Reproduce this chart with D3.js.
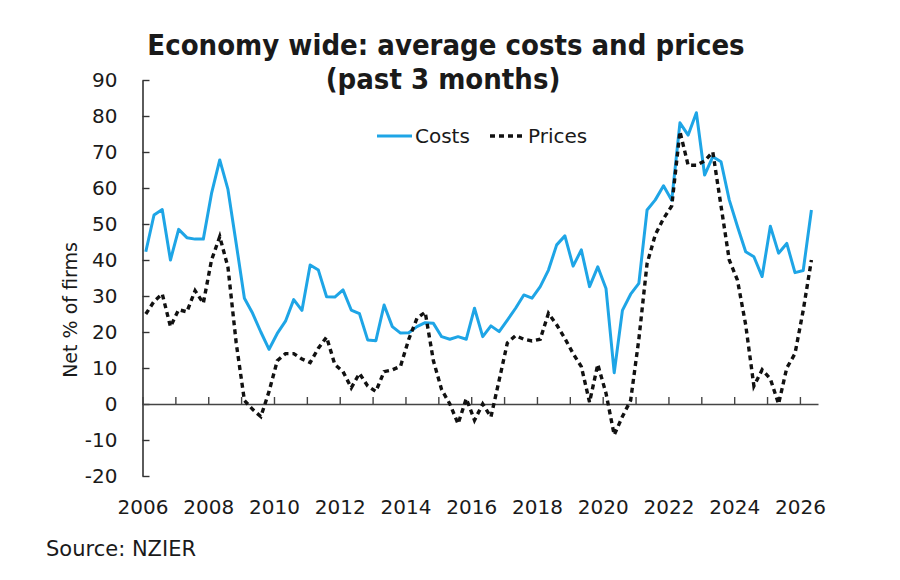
<!DOCTYPE html>
<html>
<head>
<meta charset="utf-8">
<script src="https://cdn.jsdelivr.net/npm/d3@7"></script>
<style>
body{margin:0;background:#fff}
text{font-family:"DejaVu Sans",sans-serif;fill:#1a1a1a}
</style>
</head>
<body>
<svg id="drawing_region"></svg>
<script>
// quarterly, net % of firms
const costs = [42.3, 52.5, 54, 40, 48.5, 46.2, 45.8, 45.8, 58.5, 67.8,
    59.6, 44.6, 29.4, 25.2, 20, 15.2, 19.6, 23, 29, 26,
    38.6, 37.2, 29.8, 29.7, 31.7, 26.1, 25.1, 17.8, 17.6, 27.5,
    21.5, 19.7, 19.8, 21.5, 22.6, 22.4, 18.7, 18, 18.7, 18,
    26.6, 18.7, 21.7, 20.1, 23.3, 26.6, 30.3, 29.4, 32.6, 37.2,
    44.2, 46.7, 38.3, 42.8, 32.6, 38.1, 32.1, 8.7, 26, 30.5,
    33.5, 53.9, 56.7, 60.6, 56.6, 78.1, 74.7, 80.9, 63.6, 68.7,
    67.3, 56.7, 49.3, 42.3, 40.9, 35.4, 49.4, 41.9, 44.6, 36.5,
    37.1, 53.9]

const prices = [25, 28.5, 30.6, 21.5, 26.2, 25.6, 31.5, 28, 40, 46.5,
    38, 17, 1, -1.5, -3.5, 3.5, 12, 14, 14, 12.5,
    11.5, 15.5, 18.6, 11, 9, 4.5, 8.5, 5, 3.5, 9,
    9.5, 10.5, 18, 23.8, 25.5, 12, 4, 0, -5.5, 1.5,
    -4.5, 0, -3.6, 6.6, 17, 19, 18, 17.5, 18, 25.2,
    22, 18.2, 14, 10.4, 0.5, 11, 3, -8.6, -3.5, 1,
    18, 39, 47, 51.5, 55, 75.7, 66.3, 66.3, 67.5, 70,
    55, 40, 34.4, 22, 5, 9.5, 7, 0, 10, 14,
    26, 40]

const quarters = d3.range(costs.length).map(i => 2006.1 + i / 4)
const year_ticks = d3.range(2006, 2027)
const year_labels = [2006, 2008, 2010, 2012, 2014, 2016, 2018, 2020, 2022, 2024, 2026]
const y_ticks = [-20, -10, 0, 10, 20, 30, 40, 50, 60, 70, 80, 90]

class LineChart{
    constructor(config){
        this.config = config
        this.init()
    }

    init(){
        let self = this
        const m = self.config.margin

        self.svg = d3.select(self.config.parent)
            .attr('width', self.config.width)
            .attr('height', self.config.height)

        self.chart = self.svg.append('g')
            .attr('transform', `translate(${m.left},${m.top})`)

        self.inner_width = self.config.width - m.left - m.right
        self.inner_height = self.config.height - m.top - m.bottom

        self.xscale = d3.scaleLinear().domain([2006, 2026.55]).range([0, self.inner_width])
        self.yscale = d3.scaleLinear().domain([-20, 90]).range([self.inner_height, 0])

        self.line = d3.line()
            .x(d => self.xscale(d.t))
            .y(d => self.yscale(d.v))
    }

    render(){
        let self = this

        // y axis, ticks pointing in
        const yaxis = d3.axisLeft(self.yscale).tickValues(y_ticks)
            .tickSizeInner(-7).tickSizeOuter(0).tickPadding(25)
            .tickFormat(d => String(d))
        const yg = self.chart.append('g').call(yaxis)
        yg.select('.domain').attr('stroke', '#333').attr('stroke-width', 1.6)
        yg.selectAll('.tick line').attr('stroke', '#333').attr('stroke-width', 1.4)
        yg.selectAll('text').attr('font-size', 20).attr('font-family', 'DejaVu Sans').attr('fill', '#1a1a1a')

        // zero line with year ticks
        const xaxis = d3.axisBottom(self.xscale).tickValues(year_ticks)
            .tickSizeInner(-7).tickSizeOuter(0).tickFormat('')
        const xg = self.chart.append('g')
            .attr('transform', `translate(0,${self.yscale(0)})`)
            .call(xaxis)
        xg.select('.domain').attr('stroke', '#444').attr('stroke-width', 1.6)
        xg.selectAll('.tick line').attr('stroke', '#444').attr('stroke-width', 1.4)

        // year labels at the bottom
        const lg = self.chart.append('g')
            .attr('transform', `translate(0,${self.inner_height})`)
            .call(d3.axisBottom(self.xscale).tickValues(year_labels).tickSize(0).tickPadding(24).tickFormat(d3.format('d')))
        lg.select('.domain').remove()
        lg.selectAll('text').attr('font-size', 20).attr('font-family', 'DejaVu Sans').attr('fill', '#1a1a1a')

        const cost_data = quarters.map((t, i) => ({t: t, v: costs[i]}))
        const price_data = quarters.map((t, i) => ({t: t, v: prices[i]}))

        self.chart.append('path')
            .attr('d', self.line(cost_data))
            .attr('fill', 'none')
            .attr('stroke', '#1ea5e6')
            .attr('stroke-width', 3)
            .attr('stroke-linejoin', 'round')

        self.chart.append('path')
            .attr('d', self.line(price_data))
            .attr('fill', 'none')
            .attr('stroke', '#111')
            .attr('stroke-width', 3.4)
            .attr('stroke-dasharray', '5,4')

        // legend
        const leg = self.svg.append('g')
        leg.append('line').attr('x1', 377).attr('x2', 412).attr('y1', 136).attr('y2', 136)
            .attr('stroke', '#1ea5e6').attr('stroke-width', 3)
        leg.append('text').attr('x', 415).attr('y', 143).attr('font-size', 20).text('Costs')
        leg.append('line').attr('x1', 490).attr('x2', 525).attr('y1', 136).attr('y2', 136)
            .attr('stroke', '#111').attr('stroke-width', 3.4).attr('stroke-dasharray', '5,4')
        leg.append('text').attr('x', 528).attr('y', 143).attr('font-size', 20).text('Prices')

        // titles
        self.svg.append('text')
            .attr('x', 446).attr('y', 55)
            .attr('text-anchor', 'middle')
            .attr('font-family', 'DejaVu Sans Condensed')
            .attr('font-stretch', 'condensed')
            .attr('font-weight', 'bold')
            .attr('font-size', 29)
            .text('Economy wide: average costs and prices')
        self.svg.append('text')
            .attr('x', 443).attr('y', 89)
            .attr('text-anchor', 'middle')
            .attr('font-family', 'DejaVu Sans Condensed')
            .attr('font-stretch', 'condensed')
            .attr('font-weight', 'bold')
            .attr('font-size', 29)
            .text('(past 3 months)')

        self.svg.append('text')
            .attr('transform', 'translate(77,310) rotate(-90)')
            .attr('text-anchor', 'middle')
            .attr('font-size', 19)
            .text('Net % of firms')

        self.svg.append('text')
            .attr('x', 46).attr('y', 556)
            .attr('font-size', 21)
            .text('Source: NZIER')
    }
}

const config = {
    parent: '#drawing_region',
    width: 900,
    height: 580,
    margin: {top: 80, right: 82, bottom: 104, left: 142.5}
}

const line_chart = new LineChart(config)
line_chart.render()
</script>
</body>
</html>
